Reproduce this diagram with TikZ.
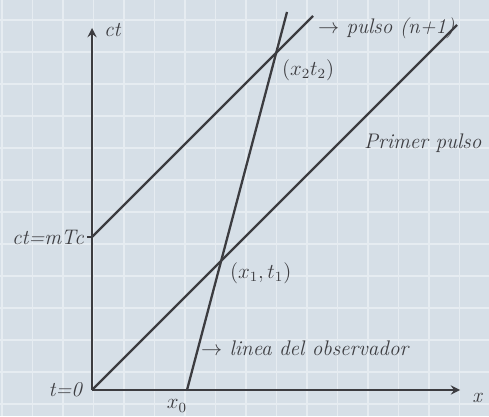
\documentclass[tikz,border=0pt]{standalone}
\usepackage{amsmath, amssymb}
\usepackage{tikz}
\usetikzlibrary{arrows.meta}
\usepackage{xcolor}
\definecolor{papel}{HTML}{D6DFE7}
\definecolor{cuadro}{HTML}{E6ECF1}
\definecolor{tinta}{HTML}{3C3C40}

\begin{document}
\begin{tikzpicture}[x=0.02cm,y=0.02cm,>=stealth,
    linea/.style={tinta,line width=1.3pt},
    rotulo/.style={tinta,font=\large\itshape,inner sep=1pt}]
      % papel cuadriculado
      \fill[papel] (0,0) rectangle (489,416);
      \useasboundingbox (0,0) rectangle (489,416);
      \foreach \i in {0,...,16} \draw[cuadro,line width=0.8pt] (2+30.5*\i,0) -- (2+30.5*\i,416);
      \foreach \j in {0,...,12} \draw[cuadro,line width=0.8pt] (0,12+32*\j) -- (489,12+32*\j);
      % puntos
      \coordinate (O) at (92,26);
      \coordinate (ctTop) at (92,388);
      \coordinate (xEnd) at (460,26);
      \coordinate (x0) at (187,26);
      \coordinate (obsTop) at (287,404);
      \coordinate (mTc) at (92,179);
      \coordinate (mTcTick) at (87,179);
      \coordinate (pulsoTop) at (313,400);
      \coordinate (primerTop) at (457,391);
      \coordinate (P1) at (221,155);
      \coordinate (P2) at (276,363);
      % ejes
      \draw[linea,->] (O) -- (xEnd);
      \draw[linea,->] (O) -- (ctTop);
      \draw[linea,line width=1pt] (mTcTick) -- (mTc);
      \node[rotulo,right] (ct) at (102,386) {ct};
      \node[rotulo] (x) at (477,18) {x};
      \node[rotulo,left] (t0) at (84,26) {t=0};
      \node[rotulo] (x0lab) at (177,10) {$x_0$};
      \node[rotulo,left] (mTclab) at (86,179) {ct=mTc};
      % lineas de universo
      \draw[linea] (O) -- (primerTop);
      \draw[linea] (mTc) -- (pulsoTop);
      \draw[linea] (x0) -- (obsTop);
      \node[rotulo,right] (P1lab) at (228,143) {$(x_1,t_1)$};
      \node[rotulo,right] (P2lab) at (280,346) {$(x_2 t_2)$};
      \node[rotulo,right] (pulso) at (316,388) {$\to$ pulso (n+1)};
      \node[rotulo,right] (primer) at (362,273) {Primer pulso};
      \node[rotulo,right] (obs) at (199,68) {$\to$ linea del observador};
    \end{tikzpicture}
\end{document}
